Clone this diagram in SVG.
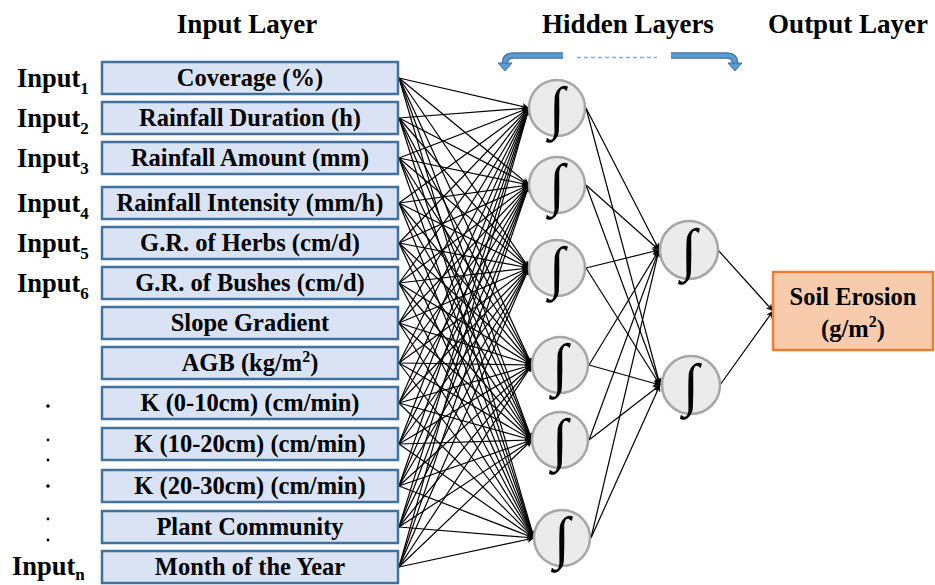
<svg xmlns="http://www.w3.org/2000/svg" width="935" height="585" viewBox="0 0 935 585">
<style>
.hdr{font-family:"Liberation Serif","Times New Roman",serif;font-weight:bold;font-size:27px;fill:#000}
.lbl{font-family:"Liberation Serif","Times New Roman",serif;font-weight:bold;font-size:24.5px;fill:#000}
.inp{font-family:"Liberation Serif","Times New Roman",serif;font-weight:bold;font-size:26.5px;fill:#000}
.box rect{fill:#DAE3F3;stroke:#41719C;stroke-width:2.5}
.box text{font-family:"Liberation Serif","Times New Roman",serif;font-weight:bold;font-size:24.5px;fill:#000;text-anchor:middle}
.neuron circle{fill:#EBEBEB;stroke:#A6A6A6;stroke-width:2.5}
.neuron text{font-family:"Liberation Serif","Times New Roman",serif;font-size:58px;fill:#000;text-anchor:middle}
#connectors line{stroke:#000;stroke-width:1.2;marker-end:url(#ah)}
</style>
<defs>
<marker id="ah" viewBox="0 0 10 10" refX="10" refY="5" markerWidth="7" markerHeight="7" markerUnits="userSpaceOnUse" orient="auto">
<path d="M0,0 L10,5 L0,10 L3,5 Z" fill="#000"/>
</marker>
</defs>
<rect width="935" height="585" fill="#fff"/>

<!-- layer headings -->
<text class="hdr" x="247" y="33" text-anchor="middle">Input Layer</text>
<text class="hdr" x="628" y="33" text-anchor="middle">Hidden Layers</text>
<text class="hdr" x="848" y="33" text-anchor="middle">Output Layer</text>

<!-- bent arrows spanning the hidden layers -->
<g id="span-arrows">
<path d="M563,55.5 H514 Q505,55.5 505,63" fill="none" stroke="#41719C" stroke-width="6.5"/>
<path d="M563,55.5 H514 Q505,55.5 505,63" fill="none" stroke="#5B9BD5" stroke-width="4"/>
<polygon points="498,63 512,63 505,71" fill="#5B9BD5" stroke="#41719C" stroke-width="1"/>
<path d="M671,55.5 H726 Q735,55.5 735,63" fill="none" stroke="#41719C" stroke-width="6.5"/>
<path d="M671,55.5 H726 Q735,55.5 735,63" fill="none" stroke="#5B9BD5" stroke-width="4"/>
<polygon points="728,63 742,63 735,71" fill="#5B9BD5" stroke="#41719C" stroke-width="1"/>
<line x1="577" y1="57.5" x2="657" y2="57.5" stroke="#7FAEDC" stroke-width="1.3" stroke-dasharray="4,3"/>
</g>

<!-- input indices -->
<g id="input-labels">
<text class="inp" x="17" y="87">Input<tspan font-size="17" dy="7">1</tspan></text>
<text class="inp" x="17" y="127">Input<tspan font-size="17" dy="7">2</tspan></text>
<text class="inp" x="17" y="167">Input<tspan font-size="17" dy="7">3</tspan></text>
<text class="inp" x="17" y="212">Input<tspan font-size="17" dy="7">4</tspan></text>
<text class="inp" x="17" y="252">Input<tspan font-size="17" dy="7">5</tspan></text>
<text class="inp" x="17" y="292">Input<tspan font-size="17" dy="7">6</tspan></text>
<text class="inp" x="12" y="575">Input<tspan font-size="17" dy="5">n</tspan></text>
<circle cx="48" cy="406" r="1.8"/>
<circle cx="48" cy="440" r="1.4"/>
<circle cx="48" cy="460" r="1.4"/>
<circle cx="48" cy="486" r="1.8"/>
<circle cx="48" cy="519" r="1.4"/>
<circle cx="48" cy="540" r="1.4"/>
</g>

<!-- connectors -->
<g id="connectors">
<line x1="399" y1="78" x2="529" y2="108"/><line x1="399" y1="78" x2="529" y2="185"/><line x1="399" y1="78" x2="529" y2="268"/><line x1="399" y1="78" x2="532" y2="365"/><line x1="399" y1="78" x2="532" y2="440"/><line x1="399" y1="78" x2="534" y2="538"/>
<line x1="399" y1="118" x2="529" y2="108"/><line x1="399" y1="118" x2="529" y2="185"/><line x1="399" y1="118" x2="529" y2="268"/><line x1="399" y1="118" x2="532" y2="365"/><line x1="399" y1="118" x2="532" y2="440"/><line x1="399" y1="118" x2="534" y2="538"/>
<line x1="399" y1="158" x2="529" y2="108"/><line x1="399" y1="158" x2="529" y2="185"/><line x1="399" y1="158" x2="529" y2="268"/><line x1="399" y1="158" x2="532" y2="365"/><line x1="399" y1="158" x2="532" y2="440"/><line x1="399" y1="158" x2="534" y2="538"/>
<line x1="399" y1="203" x2="529" y2="108"/><line x1="399" y1="203" x2="529" y2="185"/><line x1="399" y1="203" x2="529" y2="268"/><line x1="399" y1="203" x2="532" y2="365"/><line x1="399" y1="203" x2="532" y2="440"/><line x1="399" y1="203" x2="534" y2="538"/>
<line x1="399" y1="243" x2="529" y2="108"/><line x1="399" y1="243" x2="529" y2="185"/><line x1="399" y1="243" x2="529" y2="268"/><line x1="399" y1="243" x2="532" y2="365"/><line x1="399" y1="243" x2="532" y2="440"/><line x1="399" y1="243" x2="534" y2="538"/>
<line x1="399" y1="283" x2="529" y2="108"/><line x1="399" y1="283" x2="529" y2="185"/><line x1="399" y1="283" x2="529" y2="268"/><line x1="399" y1="283" x2="532" y2="365"/><line x1="399" y1="283" x2="532" y2="440"/><line x1="399" y1="283" x2="534" y2="538"/>
<line x1="399" y1="323" x2="529" y2="108"/><line x1="399" y1="323" x2="529" y2="185"/><line x1="399" y1="323" x2="529" y2="268"/><line x1="399" y1="323" x2="532" y2="365"/><line x1="399" y1="323" x2="532" y2="440"/><line x1="399" y1="323" x2="534" y2="538"/>
<line x1="399" y1="363" x2="529" y2="108"/><line x1="399" y1="363" x2="529" y2="185"/><line x1="399" y1="363" x2="529" y2="268"/><line x1="399" y1="363" x2="532" y2="365"/><line x1="399" y1="363" x2="532" y2="440"/><line x1="399" y1="363" x2="534" y2="538"/>
<line x1="399" y1="403" x2="529" y2="108"/><line x1="399" y1="403" x2="529" y2="185"/><line x1="399" y1="403" x2="529" y2="268"/><line x1="399" y1="403" x2="532" y2="365"/><line x1="399" y1="403" x2="532" y2="440"/><line x1="399" y1="403" x2="534" y2="538"/>
<line x1="399" y1="444" x2="529" y2="108"/><line x1="399" y1="444" x2="529" y2="185"/><line x1="399" y1="444" x2="529" y2="268"/><line x1="399" y1="444" x2="532" y2="365"/><line x1="399" y1="444" x2="532" y2="440"/><line x1="399" y1="444" x2="534" y2="538"/>
<line x1="399" y1="486" x2="529" y2="108"/><line x1="399" y1="486" x2="529" y2="185"/><line x1="399" y1="486" x2="529" y2="268"/><line x1="399" y1="486" x2="532" y2="365"/><line x1="399" y1="486" x2="532" y2="440"/><line x1="399" y1="486" x2="534" y2="538"/>
<line x1="399" y1="527" x2="529" y2="108"/><line x1="399" y1="527" x2="529" y2="185"/><line x1="399" y1="527" x2="529" y2="268"/><line x1="399" y1="527" x2="532" y2="365"/><line x1="399" y1="527" x2="532" y2="440"/><line x1="399" y1="527" x2="534" y2="538"/>
<line x1="399" y1="567" x2="529" y2="108"/><line x1="399" y1="567" x2="529" y2="185"/><line x1="399" y1="567" x2="529" y2="268"/><line x1="399" y1="567" x2="532" y2="365"/><line x1="399" y1="567" x2="532" y2="440"/><line x1="399" y1="567" x2="534" y2="538"/>
<!-- hidden 1 to hidden 2 -->
<line x1="586" y1="108" x2="659" y2="250"/><line x1="586" y1="108" x2="660" y2="385"/>
<line x1="586" y1="185" x2="659" y2="250"/><line x1="586" y1="185" x2="660" y2="385"/>
<line x1="586" y1="268" x2="659" y2="250"/><line x1="586" y1="268" x2="660" y2="385"/>
<line x1="589" y1="365" x2="659" y2="250"/><line x1="589" y1="365" x2="660" y2="385"/>
<line x1="589" y1="440" x2="659" y2="250"/><line x1="589" y1="440" x2="660" y2="385"/>
<line x1="591" y1="538" x2="659" y2="250"/><line x1="591" y1="538" x2="660" y2="385"/>
<!-- hidden 2 to output -->
<line x1="718" y1="250" x2="773" y2="311"/><line x1="720" y1="385" x2="773" y2="311"/>
</g>

<!-- input nodes -->
<g id="in1" class="box"><rect x="102" y="62" width="296" height="32"/><text x="250" y="86">Coverage (%)</text></g>
<g id="in2" class="box"><rect x="102" y="102" width="296" height="32"/><text x="250" y="126">Rainfall Duration (h)</text></g>
<g id="in3" class="box"><rect x="102" y="142" width="296" height="32"/><text x="250" y="166">Rainfall Amount (mm)</text></g>
<g id="in4" class="box"><rect x="102" y="187" width="296" height="32"/><text x="250" y="211">Rainfall Intensity (mm/h)</text></g>
<g id="in5" class="box"><rect x="102" y="227" width="296" height="32"/><text x="250" y="251">G.R. of Herbs (cm/d)</text></g>
<g id="in6" class="box"><rect x="102" y="267" width="296" height="32"/><text x="250" y="291">G.R. of Bushes (cm/d)</text></g>
<g id="in7" class="box"><rect x="102" y="307" width="296" height="32"/><text x="250" y="331">Slope Gradient</text></g>
<g id="in8" class="box"><rect x="102" y="347" width="296" height="32"/><text x="250" y="371">AGB (kg/m<tspan font-size="16" dy="-9">2</tspan><tspan dy="9">)</tspan></text></g>
<g id="in9" class="box"><rect x="102" y="387" width="296" height="32"/><text x="250" y="411">K (0-10cm) (cm/min)</text></g>
<g id="in10" class="box"><rect x="102" y="428" width="296" height="32"/><text x="250" y="452">K (10-20cm) (cm/min)</text></g>
<g id="in11" class="box"><rect x="102" y="470" width="296" height="32"/><text x="250" y="494">K (20-30cm) (cm/min)</text></g>
<g id="in12" class="box"><rect x="102" y="511" width="296" height="32"/><text x="250" y="535">Plant Community</text></g>
<g id="in13" class="box"><rect x="102" y="551" width="296" height="32"/><text x="250" y="575">Month of the Year</text></g>

<!-- first hidden layer -->
<g id="h1a" class="neuron"><circle cx="557" cy="108" r="28"/><text x="557" y="127">∫</text></g>
<g id="h1b" class="neuron"><circle cx="557" cy="185" r="28"/><text x="557" y="204">∫</text></g>
<g id="h1c" class="neuron"><circle cx="557" cy="268" r="28"/><text x="557" y="287">∫</text></g>
<g id="h1d" class="neuron"><circle cx="560" cy="365" r="28"/><text x="560" y="384">∫</text></g>
<g id="h1e" class="neuron"><circle cx="560" cy="440" r="28"/><text x="560" y="459">∫</text></g>
<g id="h1f" class="neuron"><circle cx="562" cy="538" r="28"/><text x="562" y="557">∫</text></g>

<!-- second hidden layer -->
<g id="h2a" class="neuron"><circle cx="689" cy="250" r="29"/><text x="689" y="269">∫</text></g>
<g id="h2b" class="neuron"><circle cx="691" cy="385" r="29"/><text x="691" y="404">∫</text></g>

<!-- output node -->
<g id="out">
<rect x="773" y="272" width="160" height="78" fill="#F8CBAD" stroke="#ED7D31" stroke-width="2.5"/>
<text class="lbl" x="853" y="305" text-anchor="middle">Soil Erosion</text>
<text class="lbl" x="853" y="337" text-anchor="middle">(g/m<tspan font-size="16" dy="-10">2</tspan><tspan dy="10">)</tspan></text>
</g>
</svg>
